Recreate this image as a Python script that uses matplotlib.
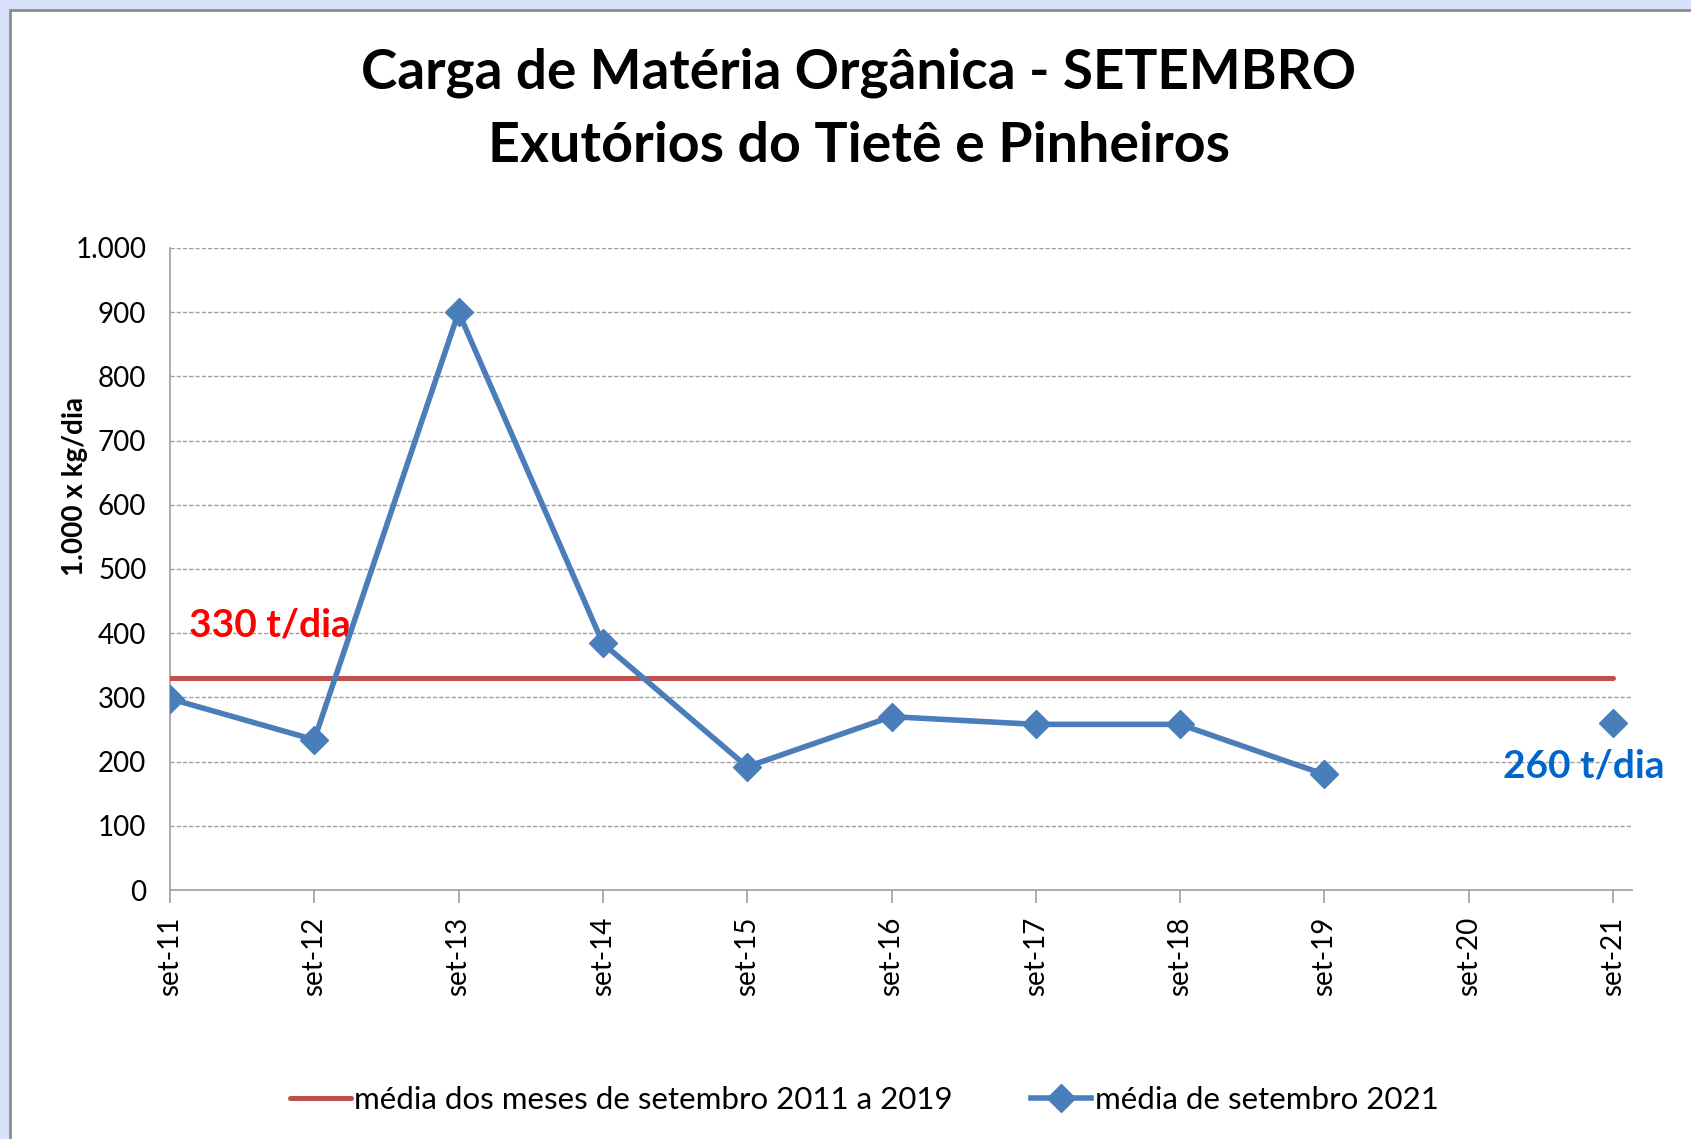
import numpy as np
import matplotlib.pyplot as plt
from matplotlib.patches import Rectangle

# data
categorias = ['set-11', 'set-12', 'set-13', 'set-14', 'set-15', 'set-16',
              'set-17', 'set-18', 'set-19', 'set-20', 'set-21']
media_2021 = [298, 234, 900, 384, 192, 270, 258, 258, 180, np.nan, 260]
media_historica = [330] * len(categorias)
yticks = [0, 100, 200, 300, 400, 500, 600, 700, 800, 900, 1000]
ytick_labels = ['0', '100', '200', '300', '400', '500', '600', '700', '800', '900', '1.000']

plt.rcParams['font.family'] = ['Lato', 'DejaVu Sans']

fig = plt.figure(figsize=(16.91, 11.39), dpi=100)
fig.patch.set_facecolor('#d9e2fb')
# white chart panel with grey frame
painel = Rectangle((10 / 1691, -0.05), 1.1, 1 - 10 / 1139 + 0.05,
                   transform=fig.transFigure, facecolor='white',
                   edgecolor='#8c8c8c', linewidth=2, zorder=-5)
fig.patches.append(painel)

ax = fig.add_axes([0.1005, 0.2186, 0.8645, 0.5637])
ax.patch.set_alpha(0)
x = np.arange(len(categorias))

ax.plot(x, media_historica, color='#c0504d', linewidth=3.6,
        solid_capstyle='round', label='média dos meses de setembro 2011 a 2019', zorder=3)
ax.plot(x, media_2021, color='#4a7ebb', linewidth=4, marker='D', markersize=14,
        label='média de setembro 2021', zorder=4)

ax.set_xlim(0, 10.13)
ax.set_ylim(0, 1000)
ax.set_yticks(yticks)
ax.set_yticklabels(ytick_labels, fontsize=20)
ax.set_xticks(x)
ax.set_xticklabels(categorias, rotation=90, fontsize=20)
ax.tick_params(axis='y', length=0, pad=17)
ax.tick_params(axis='x', length=9, color='#a6a6a6', width=1.3, pad=10)
ax.grid(axis='y', linestyle=(0, (3, 1.5)), color='#a0a0a0', linewidth=1)
ax.set_axisbelow(True)
for s in ['top', 'right']:
    ax.spines[s].set_visible(False)
for s in ['left', 'bottom']:
    ax.spines[s].set_color('#a6a6a6')
    ax.spines[s].set_linewidth(1.3)

ax.set_ylabel('1.000 x kg/dia', fontsize=20, fontweight='bold')
ax.yaxis.set_label_coords(-0.056, 0.629)

ax.text(0.13, 412, '330 t/dia', color='#ff0000', fontsize=28, fontweight='bold',
        ha='left', va='center')
ax.text(9.24, 193, '260 t/dia', color='#0066cc', fontsize=28, fontweight='bold',
        ha='left', va='center', clip_on=False)

fig.text(0.508, 0.936, 'Carga de Matéria Orgânica - SETEMBRO', fontsize=39.5,
         fontweight='bold', ha='center', va='center')
fig.text(0.508, 0.872, 'Exutórios do Tietê e Pinheiros', fontsize=40,
         fontweight='bold', ha='center', va='center')

fig.legend(loc='center', bbox_to_anchor=(0.511, 0.034), ncol=2, frameon=False,
           fontsize=22.5, handlelength=1.95, handletextpad=0.1, columnspacing=2.5)

fig.savefig('out.png', dpi=100, facecolor=fig.get_facecolor())
